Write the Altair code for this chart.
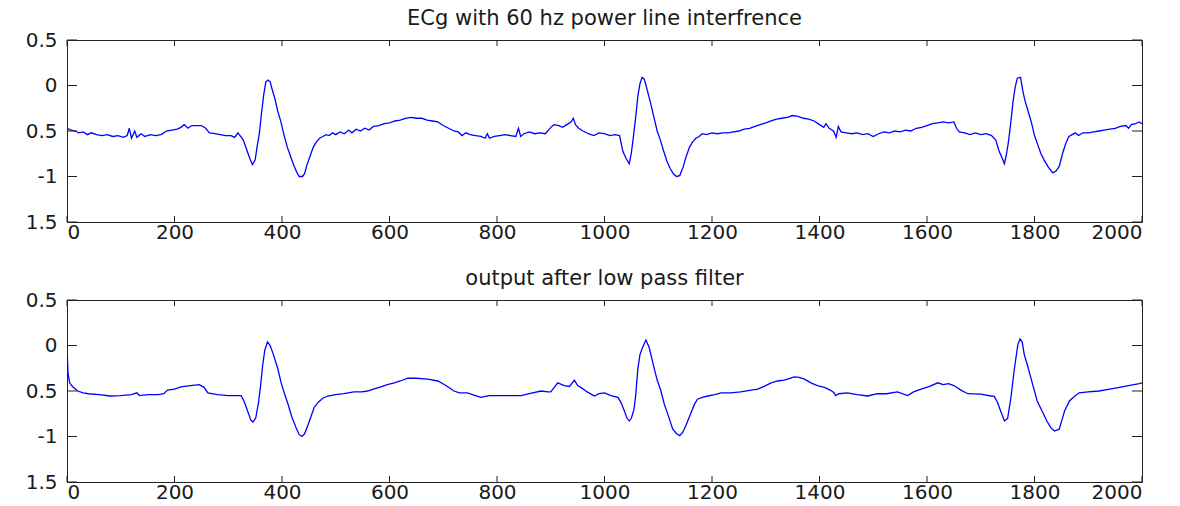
import altair as alt
import pandas as pd

# ---- data ----
top_x = [0, 8, 15, 22, 30, 38, 45, 55, 65, 75, 85, 95, 105, 112, 116, 120, 126, 130, 138, 145,
         155, 165, 175, 185, 195, 205, 212, 218, 225, 232, 240, 250, 258, 265, 275, 285, 295, 305,
         312, 318, 322, 328, 334, 340, 345, 350, 354, 358, 362, 366, 370, 374, 378, 382, 387, 392,
         398, 404, 410, 416, 422, 428, 432, 438, 442, 446, 452, 458, 464, 470, 476, 482, 488, 494,
         500, 508, 516, 524, 530, 538, 546, 554, 562, 570, 580, 590, 600, 610, 620, 630, 640, 650,
         660, 670, 680, 690, 700, 710, 720, 728, 735, 742, 750, 760, 770, 778, 782, 786, 795, 805,
         815, 825, 835, 840, 844, 850, 860, 870, 880, 890, 900, 906, 915, 922, 930, 938, 942, 946,
         952, 960, 970, 980, 990, 1000, 1010, 1020, 1028, 1034, 1040, 1046, 1050, 1054, 1058, 1062,
         1066, 1070, 1074, 1080, 1086, 1092, 1098, 1104, 1110, 1116, 1122, 1128, 1134, 1140, 1146,
         1152, 1158, 1164, 1170, 1176, 1182, 1190, 1200, 1210, 1220, 1230, 1240, 1250, 1260, 1270,
         1280, 1290, 1300, 1310, 1320, 1330, 1340, 1350, 1360, 1370, 1380, 1390, 1400, 1408, 1412,
         1418, 1426, 1431, 1435, 1440, 1450, 1460, 1470, 1480, 1490, 1500, 1510, 1520, 1530, 1540,
         1550, 1560, 1570, 1580, 1590, 1600, 1610, 1620, 1630, 1640, 1650, 1655, 1660, 1670, 1680,
         1690, 1700, 1710, 1720, 1728, 1734, 1740, 1744, 1748, 1752, 1756, 1760, 1764, 1768, 1774,
         1778, 1782, 1788, 1794, 1800, 1806, 1812, 1818, 1826, 1834, 1840, 1846, 1852, 1858, 1864,
         1870, 1876, 1882, 1890, 1900, 1910, 1920, 1930, 1940, 1950, 1960, 1970, 1975, 1980, 1988,
         1995, 2000]
top_y = [-0.47, -0.49, -0.50, -0.52, -0.51, -0.54, -0.52, -0.54, -0.55, -0.54, -0.56, -0.55, -0.57,
         -0.55, -0.47, -0.58, -0.50, -0.57, -0.53, -0.56, -0.54, -0.55, -0.54, -0.50, -0.49, -0.48,
         -0.46, -0.43, -0.47, -0.44, -0.44, -0.44, -0.47, -0.52, -0.53, -0.54, -0.55, -0.55, -0.57,
         -0.52, -0.55, -0.60, -0.70, -0.80, -0.87, -0.82, -0.66, -0.52, -0.30, -0.10, 0.04, 0.06,
         0.04, -0.05, -0.15, -0.28, -0.40, -0.55, -0.68, -0.78, -0.88, -0.96, -1.00, -1.00, -0.97,
         -0.88, -0.78, -0.68, -0.62, -0.58, -0.56, -0.54, -0.55, -0.52, -0.54, -0.51, -0.53, -0.49,
         -0.52, -0.48, -0.50, -0.47, -0.49, -0.45, -0.44, -0.42, -0.41, -0.39, -0.38, -0.36, -0.35,
         -0.36, -0.36, -0.38, -0.39, -0.40, -0.44, -0.47, -0.50, -0.51, -0.55, -0.52, -0.54, -0.55,
         -0.56, -0.58, -0.53, -0.58, -0.56, -0.55, -0.54, -0.55, -0.56, -0.47, -0.56, -0.53, -0.51,
         -0.53, -0.52, -0.53, -0.46, -0.43, -0.44, -0.46, -0.43, -0.40, -0.36, -0.43, -0.47, -0.50,
         -0.53, -0.55, -0.52, -0.53, -0.55, -0.54, -0.55, -0.72, -0.80, -0.86, -0.74, -0.55, -0.35,
         -0.12, 0.02, 0.09, 0.07, -0.06, -0.20, -0.35, -0.50, -0.60, -0.72, -0.83, -0.91, -0.97,
         -1.00, -0.99, -0.90, -0.78, -0.68, -0.62, -0.58, -0.56, -0.53, -0.54, -0.52, -0.53, -0.52,
         -0.52, -0.51, -0.50, -0.48, -0.47, -0.45, -0.43, -0.41, -0.39, -0.37, -0.36, -0.35, -0.33,
         -0.34, -0.36, -0.37, -0.39, -0.43, -0.46, -0.42, -0.47, -0.50, -0.57, -0.45, -0.51, -0.52,
         -0.53, -0.52, -0.54, -0.53, -0.56, -0.53, -0.51, -0.52, -0.50, -0.51, -0.49, -0.50, -0.47,
         -0.46, -0.44, -0.42, -0.41, -0.40, -0.41, -0.40, -0.47, -0.51, -0.52, -0.54, -0.52, -0.54,
         -0.53, -0.55, -0.60, -0.72, -0.80, -0.86, -0.75, -0.60, -0.40, -0.18, -0.02, 0.08, 0.09,
         -0.05, -0.16, -0.28, -0.40, -0.55, -0.65, -0.75, -0.82, -0.90, -0.96, -0.94, -0.89, -0.75,
         -0.64, -0.56, -0.54, -0.52, -0.55, -0.52, -0.52, -0.51, -0.50, -0.49, -0.48, -0.47, -0.45,
         -0.44, -0.47, -0.43, -0.42, -0.40, -0.42]

bot_x = [0, 2, 5, 10, 20, 30, 40, 60, 80, 100, 120, 130, 135, 150, 170, 180, 187, 200, 212, 230,
         246, 255, 262, 280, 300, 324, 330, 336, 342, 346, 351, 356, 360, 364, 368, 373, 378, 384,
         392, 398, 404, 411, 418, 426, 432, 437, 442, 448, 454, 460, 468, 476, 485, 500, 515, 534,
         548, 559, 570, 584, 596, 609, 620, 634, 650, 671, 690, 705, 720, 730, 745, 760, 770, 785,
         800, 820, 845, 860, 882, 895, 900, 913, 925, 935, 944, 950, 956, 968, 981, 990, 1000, 1012,
         1025, 1031, 1037, 1042, 1046, 1050, 1055, 1058, 1062, 1066, 1071, 1077, 1083, 1092, 1098,
         1105, 1111, 1118, 1127, 1134, 1140, 1146, 1152, 1161, 1167, 1173, 1182, 1192, 1205, 1217,
         1235, 1253, 1273, 1285, 1297, 1310, 1322, 1334, 1345, 1353, 1362, 1372, 1384, 1396, 1409,
         1420, 1427, 1430, 1436, 1452, 1470, 1489, 1508, 1525, 1545, 1564, 1575, 1589, 1605, 1620,
         1630, 1640, 1650, 1663, 1676, 1700, 1719, 1725, 1731, 1737, 1744, 1750, 1756, 1762, 1769,
         1773, 1777, 1781, 1787, 1793, 1799, 1805, 1814, 1823, 1830, 1837, 1846, 1851, 1856, 1865,
         1874, 1883, 1900, 1920, 1940, 1958, 1975, 1995, 2000]
bot_y = [-0.03, -0.31, -0.41, -0.45, -0.50, -0.52, -0.53, -0.54, -0.555, -0.55, -0.54, -0.52, -0.55,
         -0.54, -0.54, -0.53, -0.49, -0.48, -0.455, -0.44, -0.43, -0.46, -0.52, -0.54, -0.55, -0.55,
         -0.62, -0.72, -0.82, -0.84, -0.80, -0.64, -0.45, -0.22, -0.05, 0.04, 0.00, -0.10, -0.25,
         -0.40, -0.52, -0.64, -0.78, -0.90, -0.98, -1.00, -0.97, -0.88, -0.78, -0.68, -0.62, -0.58,
         -0.555, -0.54, -0.53, -0.51, -0.51, -0.50, -0.48, -0.455, -0.43, -0.41, -0.39, -0.36, -0.36,
         -0.37, -0.39, -0.44, -0.50, -0.52, -0.52, -0.55, -0.57, -0.55, -0.55, -0.55, -0.55, -0.53,
         -0.50, -0.51, -0.51, -0.41, -0.44, -0.45, -0.38, -0.44, -0.46, -0.51, -0.555, -0.53, -0.52,
         -0.55, -0.57, -0.63, -0.72, -0.80, -0.83, -0.80, -0.70, -0.55, -0.26, -0.10, -0.02, 0.06,
         -0.02, -0.24, -0.38, -0.50, -0.64, -0.76, -0.92, -0.97, -0.99, -0.95, -0.87, -0.74, -0.65,
         -0.59, -0.57, -0.555, -0.54, -0.52, -0.52, -0.51, -0.49, -0.48, -0.45, -0.41, -0.39, -0.38,
         -0.36, -0.345, -0.35, -0.37, -0.41, -0.44, -0.46, -0.49, -0.52, -0.55, -0.53, -0.52, -0.54,
         -0.555, -0.53, -0.53, -0.51, -0.55, -0.51, -0.48, -0.45, -0.41, -0.43, -0.42, -0.44, -0.49,
         -0.53, -0.535, -0.555, -0.56, -0.62, -0.72, -0.83, -0.80, -0.58, -0.28, 0.01, 0.07, 0.04,
         -0.10, -0.22, -0.35, -0.48, -0.61, -0.72, -0.83, -0.90, -0.94, -0.92, -0.82, -0.72, -0.61,
         -0.56, -0.52, -0.51, -0.50, -0.48, -0.46, -0.44, -0.42, -0.41]

x_ticks = [0, 200, 400, 600, 800, 1000, 1200, 1400, 1600, 1800, 2000]
y_ticks = [0.5, 0, -0.5, -1, -1.5]
# labels as they appear in the reference (left edge of the image clips the minus signs)
y_tick_labels = ["0.5", "0", "0.5", "-1", "1.5"]
titles = ["ECg with 60 hz power line interfrence", "output after low pass filter"]

W, H = 1075, 182
FONT = "DejaVu Sans"
TXT = "#1a1a1a"

xs = alt.Scale(domain=[0, 2000], nice=False, zero=False)
ys = alt.Scale(domain=[-1.5, 0.5], nice=False, zero=False)

Y_LABEL = " : ".join(
    f"datum.value == {v} ? '{s}'" for v, s in zip(y_ticks, y_tick_labels)
) + " : ''"


def panel(xv, yv, title):
    df = pd.DataFrame({"x": xv, "y": yv})
    line = alt.Chart(df).mark_line(color="#0000ff", strokeWidth=1.3, clip=True).encode(
        x=alt.X("x:Q", scale=xs, axis=alt.Axis(values=x_ticks, grid=False, domain=False, ticks=False,
                                               labelPadding=0, labelFontSize=20, labelFont=FONT,
                                               labelColor=TXT, title=None, format="d",
                                               labelOverlap=False)),
        y=alt.Y("y:Q", scale=ys, axis=alt.Axis(values=y_ticks, grid=False, domain=False, ticks=False,
                                               labelPadding=10, labelFontSize=20, labelFont=FONT,
                                               labelColor=TXT, title=None, labelOverlap=False,
                                               labelExpr=Y_LABEL)),
    )
    xt = pd.DataFrame({"t": x_ticks})
    yt = pd.DataFrame({"t": y_ticks})
    tick_top = alt.Chart(xt).mark_rule(color="#222", strokeWidth=1).encode(
        x=alt.X("t:Q", scale=xs), y=alt.value(0), y2=alt.value(6))
    tick_bot = alt.Chart(xt).mark_rule(color="#222", strokeWidth=1).encode(
        x=alt.X("t:Q", scale=xs), y=alt.value(H), y2=alt.value(H - 6))
    tick_left = alt.Chart(yt).mark_rule(color="#222", strokeWidth=1).encode(
        y=alt.Y("t:Q", scale=ys), x=alt.value(0), x2=alt.value(10))
    tick_right = alt.Chart(yt).mark_rule(color="#222", strokeWidth=1).encode(
        y=alt.Y("t:Q", scale=ys), x=alt.value(W), x2=alt.value(W - 10))
    return alt.layer(line, tick_top, tick_bot, tick_left, tick_right).properties(
        width=W, height=H,
        title=alt.TitleParams(title, fontSize=21, font=FONT, fontWeight="normal", color=TXT,
                              offset=1, anchor="middle"),
    )


chart = alt.vconcat(
    panel(top_x, top_y, titles[0]),
    panel(bot_x, bot_y, titles[1]),
    spacing=24,
).properties(
    padding={"left": 24, "top": 7, "right": 0, "bottom": 0},
    background="white",
).configure_view(
    stroke="#222", strokeWidth=1
)

chart.save("out.html", embed_options={"renderer": "svg", "actions": False})
